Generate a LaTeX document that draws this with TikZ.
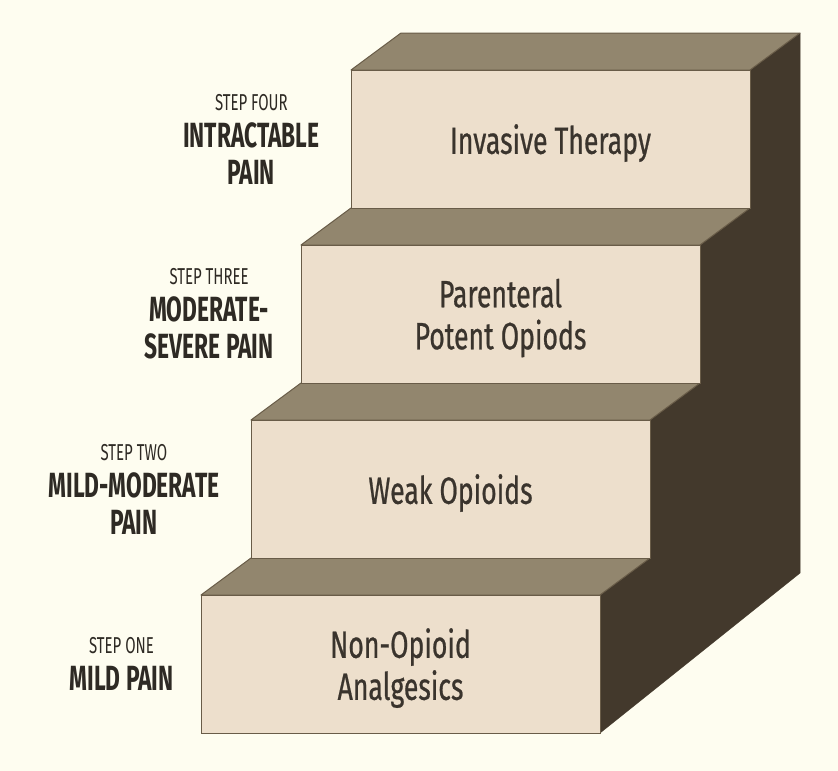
\documentclass[tikz,border=0pt]{standalone}
\usepackage{fontspec}
\setmainfont{Fira Sans}
\newfontfamily\stairfont[FakeStretch=0.70,FakeBold=0.6]{Fira Sans}
\newfontfamily\notefont[FakeStretch=0.65]{Fira Sans}
\usetikzlibrary{positioning}
\pgfdeclarelayer{ultrabackground}
\pgfdeclarelayer{background}
\pgfsetlayers{ultrabackground,background,main}
\definecolor{paper}{RGB}{254,253,240}
\definecolor{riser}{RGB}{237,223,204}
\definecolor{tread}{RGB}{146,134,110}
\definecolor{flank}{RGB}{67,57,44}
\definecolor{edge}{RGB}{105,92,72}
\definecolor{ink}{RGB}{58,52,45}
\newcommand\steptag[1]{{\mdseries\fontsize{23}{38}\selectfont #1}}

\begin{document}
\begin{tikzpicture}
		[
			x = 1pt, y = -1pt,
			riser/.style = {rectangle, fill = riser, draw = edge, line width = 1pt, outer sep = 0pt, inner sep = 0pt, minimum width = 399pt, minimum height = 138pt, align = center, text depth = 0pt, text = ink, font = \stairfont\fontsize{38}{42}\selectfont},
			tread/.style = {fill = tread, draw = edge, line width = 1pt, line join = round},
			flank/.style = {fill = flank, draw = flank, line width = 0.5pt, line join = round},
			stepnote/.style = {align = center, text = ink!80!black, font = \notefont\bfseries\fontsize{35}{37}\selectfont},
		]
			%
			\useasboundingbox (0,0) rectangle (838,771);
			\begin{pgfonlayer}{ultrabackground}
				\fill [paper] (0,0) rectangle (838,771);
			\end{pgfonlayer}
			%
			\node (step1) [riser] at (400.5,664) {Non-Opioid\\Analgesics};
			\node (step2) [riser] at (450.5,489) {Weak Opioids};
			\node (step3) [riser] at (500.5,314) {Parenteral\\Potent Opiods};
			\node (step4) [riser] at (550.5,139) {Invasive Therapy};
			%
			\node (note1) [stepnote, left = 24pt of step1] {\steptag{STEP ONE}\\MILD PAIN};
			\node (note2) [stepnote, left = 28pt of step2] {\steptag{STEP TWO}\\MILD-MODERATE\\PAIN};
			\node (note3) [stepnote, left = 24pt of step3] {\steptag{STEP THREE}\\MODERATE-\\SEVERE PAIN};
			\node (note4) [stepnote, left = 28pt of step4] {\steptag{STEP FOUR}\\INTRACTABLE\\PAIN};
			%
			\begin{pgfonlayer}{background}
				\draw [flank] (step1.south east) -- (step1.north east) -- (step2.south east) -- (step2.north east)
					-- (step3.south east) -- (step3.north east) -- (step4.south east) -- (step4.north east)
					-- ++(50,-37) coordinate (peak) -- ++(0,540) -- cycle;
				\draw [tread] (step1.north west) -- (step1.north east) -- (step2.south east) -- (step2.south west) -- cycle;
				\draw [tread] (step2.north west) -- (step2.north east) -- (step3.south east) -- (step3.south west) -- cycle;
				\draw [tread] (step3.north west) -- (step3.north east) -- (step4.south east) -- (step4.south west) -- cycle;
				\draw [tread] (step4.north west) -- (step4.north east) -- (peak) -- ++(-399,0) -- cycle;
			\end{pgfonlayer}
			%
		\end{tikzpicture}
\end{document}
